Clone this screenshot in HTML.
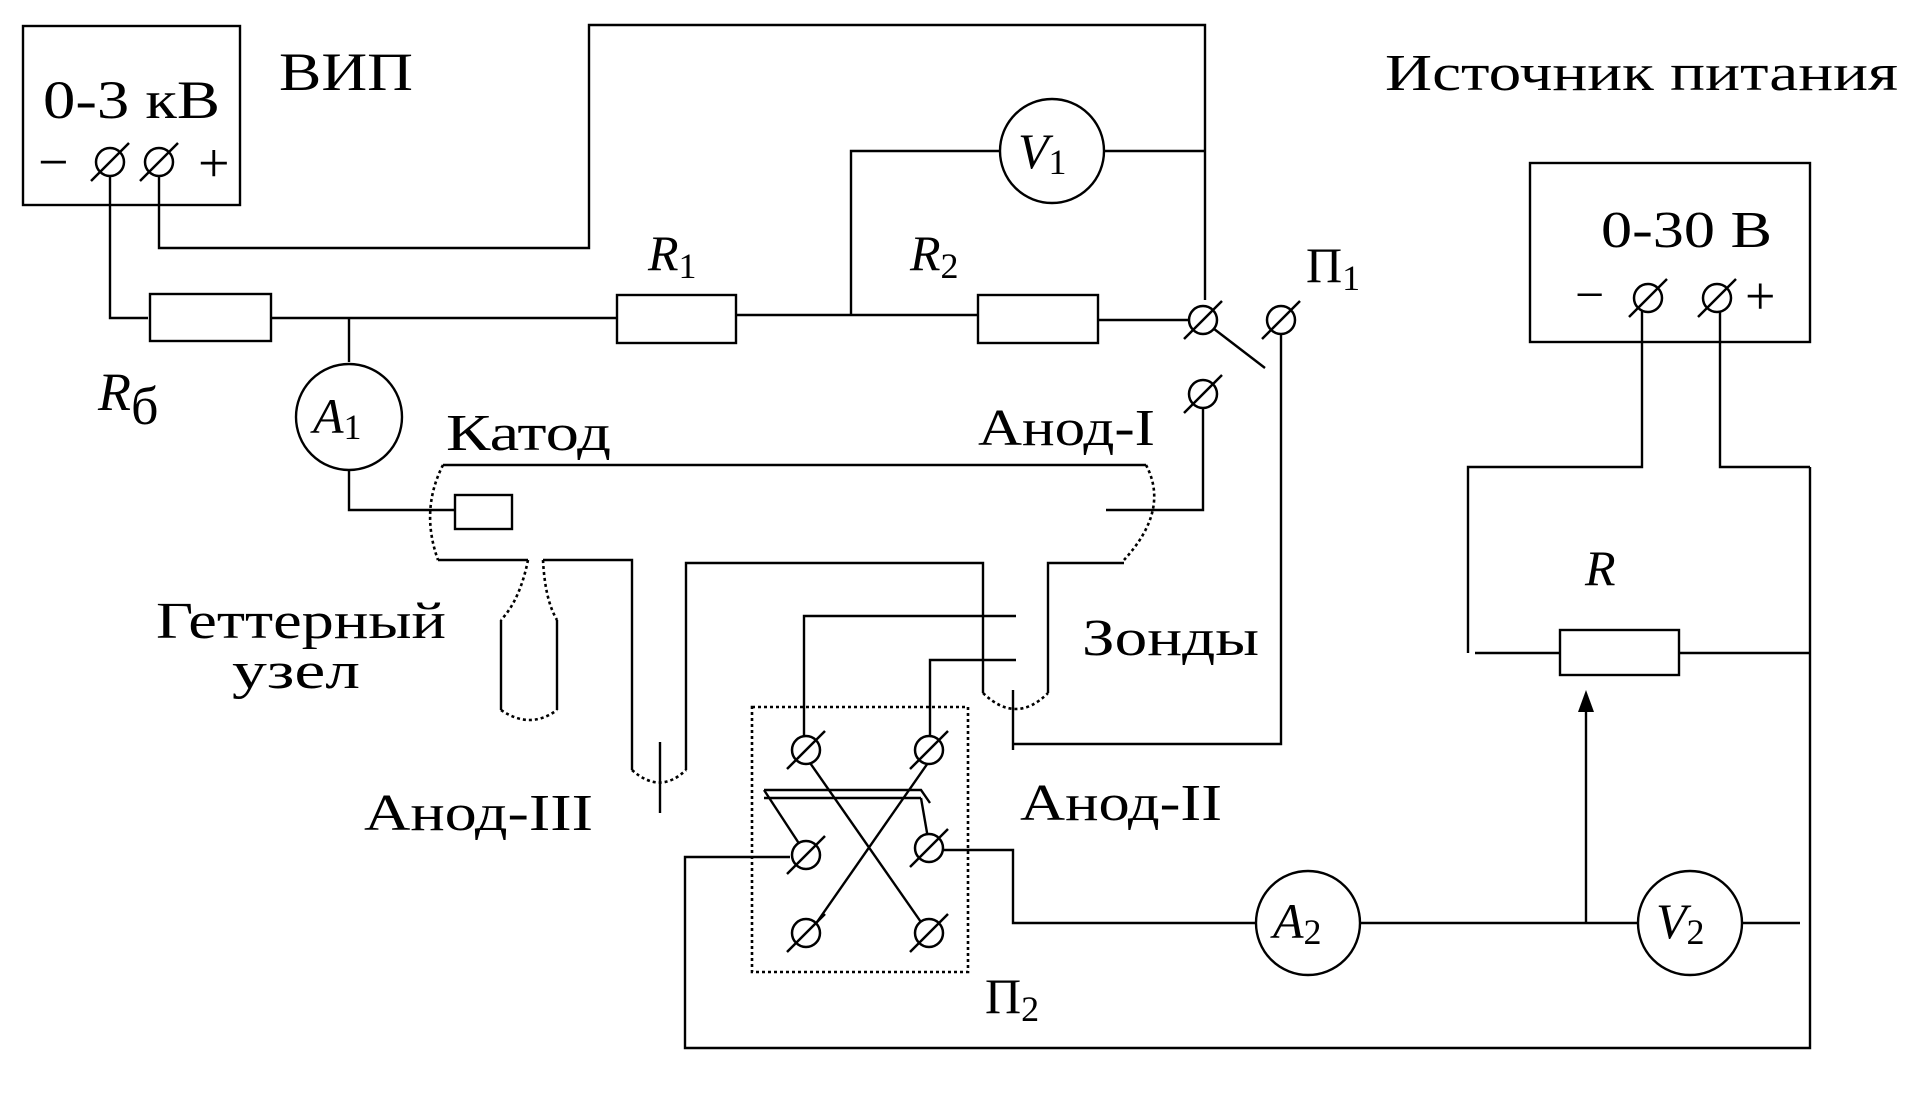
<!DOCTYPE html>
<html><head><meta charset="utf-8"><style>
html,body{margin:0;padding:0;background:#fff;}
svg{display:block;}
text{font-family:"Liberation Serif","DejaVu Serif",serif;fill:#000;}
.i{font-style:italic;}
</style></head><body>
<svg width="1910" height="1094" viewBox="0 0 1910 1094" xmlns="http://www.w3.org/2000/svg">
<defs>
<g id="t"><circle r="14" fill="#fff" stroke="#000" stroke-width="2.5"/><line x1="-19" y1="19" x2="19" y2="-19" stroke="#000" stroke-width="2.5"/></g>
</defs>
<g fill="none" stroke="#000" stroke-width="2.4">
<rect x="23" y="26" width="217" height="179"/>
<polyline points="110,175 110,318 148,318"/>
<rect x="150" y="294" width="121" height="47"/>
<polyline points="271,318 617,318"/>
<polyline points="349,318 349,362"/>
<polyline points="159,175 159,248 589,248 589,25 1205,25 1205,300"/>
<circle cx="349" cy="417" r="53"/>
<polyline points="349,470 349,510 455,510"/>
<rect x="455" y="495" width="57" height="34"/>
<rect x="617" y="295" width="119" height="48"/>
<polyline points="736,315 978,315"/>
<polyline points="851,315 851,151 1000,151"/>
<circle cx="1052" cy="151" r="52"/>
<polyline points="1104,151 1205,151"/>
<rect x="978" y="295" width="120" height="48"/>
<polyline points="1098,320 1190,320"/>
<line x1="1205" y1="322" x2="1265" y2="368"/>
<polyline points="1281,333 1281,744 1014,744"/>
<polyline points="1203,408 1203,510 1106,510"/>
<line x1="443" y1="465" x2="1146" y2="465"/>
<polyline points="438,560 528,560"/>
<polyline points="543,560 632,560 632,770"/>
<polyline points="686,770 686,563 983,563 983,693"/>
<polyline points="1048,693 1048,563 1124,563"/>
<polyline points="501,620 501,710"/>
<polyline points="557,620 557,710"/>
<line x1="660" y1="742" x2="660" y2="813"/>
<polyline points="1016,616 804,616 804,740"/>
<polyline points="1016,660 930,660 930,740"/>
<polyline points="1013,690 1013,750"/>
<line x1="808" y1="760" x2="930" y2="935"/>
<line x1="930" y1="760" x2="808" y2="935"/>
<polyline points="764,790 921,790 930,803"/>
<polyline points="764,790 800,845"/>
<polyline points="764,798 921,798"/>
<line x1="921" y1="798" x2="930" y2="850"/>
<polyline points="790,857 685,857 685,1048 1810,1048 1810,467"/>
<polyline points="942,850 1013,850 1013,923 1255,923"/>
<circle cx="1308" cy="923" r="52"/>
<polyline points="1360,923 1637,923"/>
<circle cx="1690" cy="923" r="52"/>
<polyline points="1742,923 1800,923"/>
<line x1="1586" y1="923" x2="1586" y2="710"/>
<rect x="1530" y="163" width="280" height="179"/>
<rect x="1560" y="630" width="119" height="45"/>
<polyline points="1475,653 1560,653"/>
<polyline points="1679,653 1810,653"/>
<polyline points="1468,653 1468,467 1642,467 1642,300"/>
<polyline points="1810,467 1720,467 1720,300"/>
</g>
<g fill="none" stroke="#000" stroke-width="2.6" stroke-dasharray="3,3">
<path d="M443,465 Q420,510 438,560"/>
<path d="M1146,465 Q1170,510 1124,560"/>
<path d="M528,560 Q520,600 501,620"/>
<path d="M543,560 Q545,600 557,620"/>
<path d="M501,710 Q530,730 557,710"/>
<path d="M632,770 Q660,795 686,770"/>
<path d="M983,693 Q1016,725 1048,693"/>
<rect x="752" y="707" width="216" height="265"/>
</g>
<polygon points="1586,690 1578,712 1594,712" fill="#000"/>
<use href="#t" x="110" y="162"/><use href="#t" x="159" y="162"/>
<use href="#t" x="1203" y="320"/><use href="#t" x="1281" y="320"/><use href="#t" x="1203" y="394"/>
<use href="#t" x="806" y="750"/><use href="#t" x="929" y="750"/>
<use href="#t" x="806" y="855"/><use href="#t" x="929" y="848"/>
<use href="#t" x="806" y="933"/><use href="#t" x="929" y="933"/>
<use href="#t" x="1648" y="298"/><use href="#t" x="1717" y="298"/>
<text x="43" y="118" font-size="54" textLength="177" lengthAdjust="spacingAndGlyphs">0-3 кВ</text>
<text x="38" y="180" font-size="54">−</text>
<text x="198" y="182" font-size="56">+</text>
<text x="279" y="90" font-size="54" textLength="134" lengthAdjust="spacingAndGlyphs">ВИП</text>
<text x="1385" y="90" font-size="52" textLength="513" lengthAdjust="spacingAndGlyphs">Источник питания</text>
<text x="1601" y="247" font-size="52" textLength="171" lengthAdjust="spacingAndGlyphs">0-30 В</text>
<text x="1575" y="312" font-size="52">−</text>
<text x="1745" y="314" font-size="54">+</text>
<text x="648" y="270" font-size="50" class="i">R<tspan font-size="36" font-style="normal" dy="8">1</tspan></text>
<text x="910" y="270" font-size="50" class="i">R<tspan font-size="36" font-style="normal" dy="8">2</tspan></text>
<text x="1306" y="282" font-size="50">П<tspan font-size="36" dy="8">1</tspan></text>
<text x="98" y="410" font-size="54" class="i">R<tspan font-size="54" font-style="normal" dy="14">б</tspan></text>
<text x="313" y="433" font-size="50" class="i">A<tspan font-size="36" font-style="normal" dy="6">1</tspan></text>
<text x="1018" y="168" font-size="50" class="i">V<tspan font-size="36" font-style="normal" dy="6">1</tspan></text>
<text x="1273" y="938" font-size="50" class="i">A<tspan font-size="36" font-style="normal" dy="6">2</tspan></text>
<text x="1656" y="938" font-size="50" class="i">V<tspan font-size="36" font-style="normal" dy="6">2</tspan></text>
<text x="446" y="450" font-size="52" textLength="165" lengthAdjust="spacingAndGlyphs">Катод</text>
<text x="978" y="445" font-size="52" textLength="177" lengthAdjust="spacingAndGlyphs">Анод-I</text>
<text x="156" y="638" font-size="52" textLength="290" lengthAdjust="spacingAndGlyphs">Геттерный</text>
<text x="232" y="688" font-size="52" textLength="128" lengthAdjust="spacingAndGlyphs">узел</text>
<text x="1082" y="655" font-size="52" textLength="177" lengthAdjust="spacingAndGlyphs">Зонды</text>
<text x="364" y="830" font-size="52" textLength="229" lengthAdjust="spacingAndGlyphs">Анод-III</text>
<text x="1020" y="820" font-size="52" textLength="202" lengthAdjust="spacingAndGlyphs">Анод-II</text>
<text x="985" y="1013" font-size="50">П<tspan font-size="36" dy="8">2</tspan></text>
<text x="1585" y="585" font-size="50" class="i">R</text>
</svg>
</body></html>
